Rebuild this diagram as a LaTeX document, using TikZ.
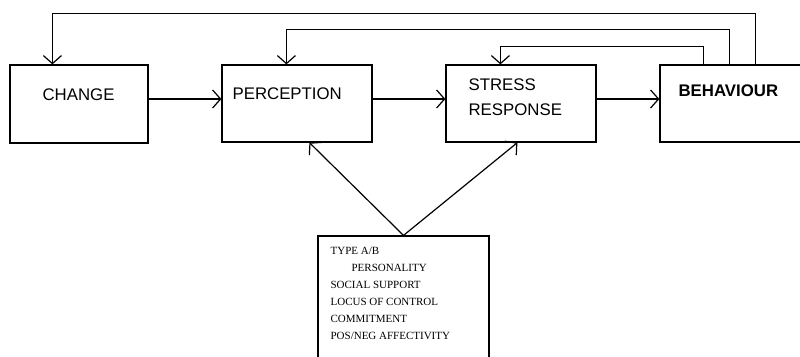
\documentclass[tikz,border=0pt]{standalone}
\usepackage{fontspec}
\setmainfont{Liberation Sans}
\newfontfamily\serifx{Liberation Serif}
\usetikzlibrary{arrows.meta}
\begin{document}
\begin{tikzpicture}[x=1pt,y=-1pt,line width=1.2pt,
  box/.style={draw,inner sep=0pt},
  lbl/.style={anchor=west,inner sep=0pt,font=\fontsize{16.8}{19}\selectfont},
  arr/.style={-{Straight Barb[length=8pt,width=18pt,line width=1.2pt]}}]
\clip (0,0) rectangle (800,356);
\fill[white] (0,0) rectangle (800,356);
% boxes
\node[box,minimum width=138pt,minimum height=78pt] (change) at (79,104) {};
\node[box,minimum width=150pt,minimum height=77pt] (perc) at (297,103.5) {};
\node[box,minimum width=150pt,minimum height=77pt] (stress) at (521,103.5) {};
\node[box,minimum width=170pt,minimum height=77pt] (beh) at (745,103.5) {};
\node[box,minimum width=171pt,minimum height=140pt] (bot) at (403.5,306) {};
% labels
\node[lbl] (tchange) at (42,95) {CHANGE};
\node[lbl] (tperc) at (232,94) {PERCEPTION};
\node[lbl] (tstress1) at (468,85) {STRESS};
\node[lbl] (tstress2) at (468,110) {RESPONSE};
\node[lbl,font=\fontsize{16.8}{19}\selectfont\bfseries] (tbeh) at (678,91) {BEHAVIOUR};
\node[anchor=north west,inner sep=0pt,align=left,font=\serifx\fontsize{11}{17}\selectfont] (tbot) at (330,246.5)
  {TYPE A/B\\\hspace*{21pt}PERSONALITY\\SOCIAL SUPPORT\\LOCUS OF CONTROL\\COMMITMENT\\POS/NEG AFFECTIVITY};
% forward arrows
\draw[arr] ([yshift=5pt]change.east) -- ([yshift=5pt]change.east -| perc.west);
\draw[arr] ([yshift=4.5pt]perc.east) -- ([yshift=4.5pt]perc.east -| stress.west);
\draw[arr] ([yshift=4.5pt]stress.east) -- ([yshift=4.5pt]stress.east -| beh.west);
% feedback loops
\draw[arr] ([xshift=96pt]beh.north west) -- ++(0,-51) -| ([xshift=43pt]change.north west);
\draw[arr] ([xshift=70pt]beh.north west) -- ++(0,-35) -| ([xshift=65pt]perc.north west);
\draw[arr] ([xshift=44pt]beh.north west) -- ++(0,-18) -| ([xshift=55pt]stress.north west);
% moderators
\draw[arr] (bot.north) -- ([xshift=88pt]perc.south west);
\draw[arr] (bot.north) -- ([xshift=72pt]stress.south west);
\end{tikzpicture}
\end{document}
